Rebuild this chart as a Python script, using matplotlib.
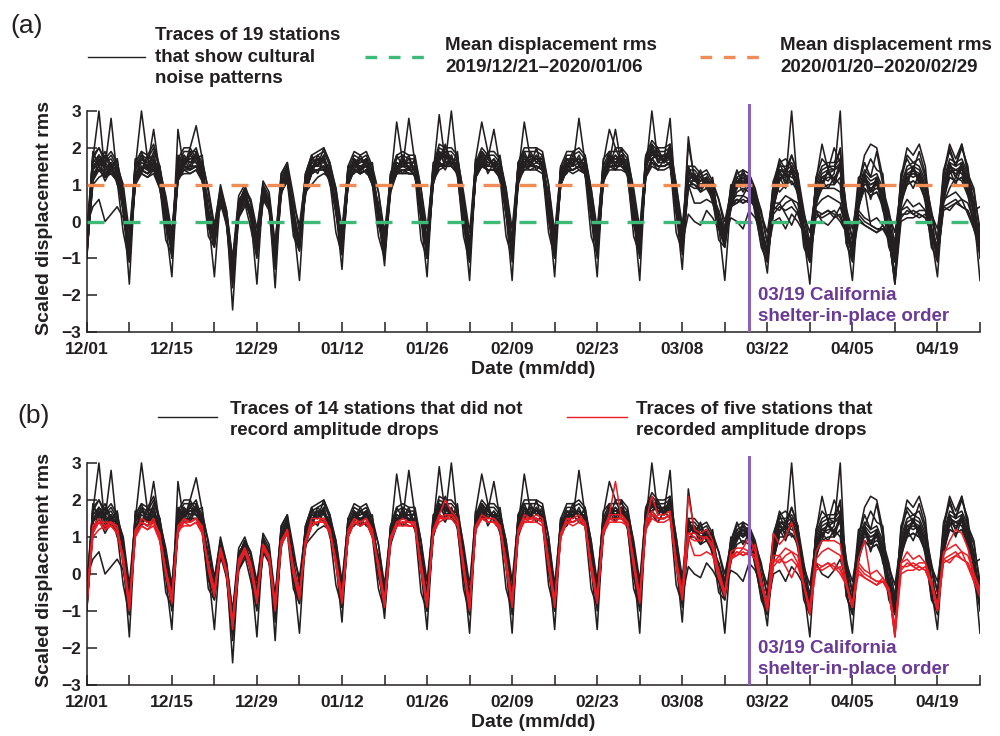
import numpy as np
import matplotlib.pyplot as plt
from matplotlib.lines import Line2D

# daily values, day 0 = 2019/12/01 (Sunday)
days = np.arange(148)
tick_days = np.arange(0, 148, 7)
tick_labels = ['12/01', '', '12/15', '', '12/29', '', '01/12', '', '01/26', '',
               '02/09', '', '02/23', '', '03/08', '', '03/22', '', '04/05', '',
               '04/19', '']
shelter_day = 109          # 03/19
holiday_mean = 0.0         # 2019/12/21-2020/01/06
after_mean = 1.0           # 2020/01/20-2020/02/29

# scaled displacement rms per station, in tenths (one week per group)
st01 = [-8,17,30,13,15,14,4, -10,15,30,17,18,11,-1, -8,13,16,18,20,14,1,
        -6,6,0,-16,4,6,1, -8,9,6,-10,9,12,0, -7,11,14,17,16,14,3,
        -8,11,17,14,17,13,2, -9,11,14,15,16,14,1, -9,13,29,16,30,14,1,
        -10,13,17,15,17,15,2, -9,12,18,16,18,15,3, -9,13,15,17,16,14,2,
        -8,12,18,16,18,14,2, -8,14,30,16,18,17,3, -7,13,11,11,12,7,-1,
        -6,7,11,10,11,6,-4, -10,7,13,11,30,9,-4, -10,6,12,11,13,30,-3,
        -9,7,10,10,11,7,-4, -10,6,13,12,13,9,-4, -9,9,13,14,13,9,2, -8]
st02 = [-6,14,18,15,28,12,5, -8,12,17,15,25,13,1, -7,15,18,16,18,13,3,
        -4,8,2,-13,6,8,3, -6,7,4,-8,11,14,1, -5,12,16,15,18,12,5,
        -6,13,15,16,17,11,4, -7,10,16,15,28,16,3, -7,12,17,18,16,16,3,
        -8,15,19,17,15,13,4, -7,14,16,18,17,17,5, -7,11,17,15,28,16,4,
        -6,14,16,18,16,16,4, -6,16,18,18,16,19,5, -5,11,13,10,10,9,1,
        -4,5,9,12,9,4,-2, -8,5,11,13,12,11,-2, -8,8,12,13,11,15,-1,
        -7,5,12,8,11,5,-2, -8,8,11,14,11,7,-2, -7,7,15,12,15,11,4, -6]
st03 = [-9,12,15,11,14,11,-3, -11,11,14,13,15,10,-5, -9,25,14,15,15,12,-4,
        -7,5,-1,-18,1,5,-2, -10,6,3,-13,8,11,-4, -8,8,13,14,15,11,-3,
        -9,10,14,13,14,10,-4, -10,8,13,14,13,13,-5, -10,10,16,15,15,13,-4,
        -11,12,16,14,14,12,-4, -10,11,15,15,15,14,-3, -10,10,14,14,15,13,-4,
        -9,11,15,15,15,13,-4, -9,13,17,15,15,16,-3, -8,10,10,8,9,6,-5,
        -7,4,8,9,8,3,-7, -11,4,10,10,11,8,-7, -11,5,9,10,10,12,-6,
        -10,4,9,7,8,4,-7, -11,5,10,11,10,6,-7, -10,6,12,11,12,8,-2, -9]
st04 = [-5,18,20,17,19,16,9, -6,16,19,18,21,15,6, -4,17,20,20,26,17,8,
        -2,10,3,-10,7,10,5, -4,11,8,-6,13,16,7, -3,13,18,19,20,16,9,
        -4,15,19,18,19,15,8, -5,13,18,19,18,18,9, -5,15,21,20,20,18,7,
        -6,17,27,19,19,17,9, -5,16,20,20,20,19,10, -5,15,19,19,20,18,9,
        -4,16,25,20,20,18,8, -4,18,22,20,20,21,10, -3,15,15,13,14,11,6,
        -2,9,13,14,13,8,3, -6,9,15,15,16,13,3, -6,10,14,15,15,17,4,
        -5,9,14,12,13,9,3, -6,10,15,16,15,11,3, -5,11,17,16,17,13,9, -4]
st05 = [-10,15,17,14,16,13,4, -17,13,16,15,18,12,-1, -15,14,17,17,17,14,1,
        -15,7,1,-24,3,7,1, -17,8,5,-18,10,13,0, -16,10,15,16,17,13,3,
        -13,12,16,15,16,12,2, -12,10,15,16,15,15,1, -15,12,18,17,17,15,1,
        -16,14,18,16,16,14,2, -16,13,27,17,17,16,3, -15,12,16,16,17,15,2,
        -15,13,17,17,17,15,2, -16,15,19,17,17,18,3, -13,12,12,10,11,8,-1,
        -16,6,10,11,10,5,-4, -14,6,12,12,13,10,-4, -17,7,11,12,12,14,-3,
        -16,6,11,9,10,6,-4, -17,7,12,13,12,8,-4, -15,8,14,13,14,10,2, -16]
st06 = [-7,19,15,18,14,17,6, -9,17,14,18,16,15,0, -6,17,15,19,16,16,2,
        -5,9,0,-12,5,9,2, -7,10,4,-9,12,15,1, -6,13,14,18,16,15,4,
        -7,15,14,17,15,14,3, -8,13,14,18,14,17,2, -8,15,17,19,16,17,2,
        -9,17,16,18,15,16,3, -8,16,15,19,16,18,4, -8,15,14,18,16,17,3,
        -7,16,15,20,16,17,3, -7,18,17,19,16,20,4, -6,23,11,13,10,11,0,
        -5,10,9,14,10,8,-3, -9,10,17,14,18,13,-3, -9,11,15,16,16,19,-2,
        -8,10,16,12,19,10,-3, -9,11,18,16,17,12,-3, -8,12,20,15,21,14,3, -7]
st07 = [-1,4,6,0,2,4,1, -8,11,14,13,16,11,0, -7,12,15,15,15,12,2,
        -5,6,0,-14,2,6,2, -7,7,4,-9,9,12,1, -6,8,10,12,13,12,4,
        -7,10,14,13,14,11,3, -8,9,13,14,13,13,2, -8,11,16,15,15,14,2,
        -9,12,16,14,14,13,3, -8,12,15,15,15,14,4, -8,11,14,14,15,13,3,
        -7,12,15,15,15,14,3, -7,13,17,15,15,16,4, -6,2,0,-1,3,1,-2,
        -4,1,0,-2,3,1,-3, -9,0,1,-2,2,0,-3, -9,3,0,-1,1,4,-2,
        -8,6,9,7,8,5,-3, -9,6,10,11,10,7,-3, -8,7,12,11,12,9,3, 4]
st08 = [-8,16,18,16,17,14,5, -9,14,17,16,17,13,1, -8,15,16,17,18,15,3,
        -6,8,1,-15,4,8,3, -7,9,6,-9,11,14,2, -6,11,16,17,17,14,4,
        -7,13,17,16,17,13,3, -8,11,27,16,16,16,2, -8,13,19,18,16,16,2,
        -9,15,19,17,25,15,3, -8,14,18,16,17,17,4, -8,13,17,17,16,16,3,
        -7,14,18,17,18,16,3, -7,16,20,18,18,19,4, -6,13,13,11,12,9,0,
        -5,7,11,12,11,6,-3, -9,7,14,13,14,11,-3, -9,8,12,13,14,15,-2,
        -8,7,12,10,11,7,-3, -9,8,13,14,13,9,-3, -8,9,15,14,15,11,3, -7]
st09 = [-7,14,16,15,15,12,5, -8,13,15,14,17,12,0, -7,13,17,16,16,14,2,
        -5,7,0,-13,3,7,2, -6,8,5,-8,10,13,1, -5,10,15,15,17,13,4,
        -6,12,16,15,15,12,3, -7,10,15,15,15,14,2, -7,12,18,16,17,15,2,
        -8,14,18,16,16,14,3, -7,13,17,16,17,16,4, -7,12,16,16,17,15,3,
        -6,13,17,17,17,15,3, -6,15,19,17,17,28,4, -5,12,12,10,11,8,0,
        -4,6,10,11,10,5,-3, -8,9,16,17,15,12,-2, -8,11,21,14,20,16,-1,
        -7,10,18,21,20,12,-2, -8,12,20,18,21,15,-2, -7,13,21,17,21,13,4, -6]
st10 = [-9,11,17,12,16,10,7, -7,13,14,15,14,12,3, -10,11,17,14,18,11,-2,
        -3,4,2,-12,1,4,4, -9,5,6,-11,7,14,-2, -4,7,15,13,17,10,6,
        -9,12,13,15,13,12,-1, -6,8,15,13,15,12,5, -10,10,16,14,18,12,-1,
        -7,12,18,13,16,11,5, -11,10,15,17,14,16,0, -6,12,13,16,14,13,6,
        -10,10,17,14,17,12,-1, -6,12,16,14,17,15,6, -9,9,12,8,11,5,3,
        -3,3,11,8,11,2,-6, -11,3,12,9,14,7,-1, -8,4,11,9,12,10,-6,
        -11,3,12,6,11,3,-1, -7,4,12,9,13,5,-6, -11,5,14,10,15,7,5, -10]
st11 = [-6,17,15,16,14,15,5, -8,14,18,14,16,14,2, -6,16,15,18,16,13,3,
        -4,8,2,-11,4,7,3, -6,9,6,-8,10,15,2, -5,11,17,15,18,12,5,
        -6,13,15,17,15,13,4, -7,11,16,15,17,14,3, -7,14,17,18,16,17,3,
        -8,13,19,15,17,13,4, -7,15,16,18,16,17,5, -7,11,17,15,18,14,4,
        -6,14,16,18,16,16,4, -6,14,20,16,18,17,5, -5,14,11,12,9,10,1,
        -4,7,12,10,12,4,-2, -8,5,14,10,15,9,-2, -8,9,10,14,11,16,-1,
        -7,5,13,8,12,5,-2, -8,9,11,15,11,10,-2, -7,7,16,12,16,10,4, -6]
st12 = [-6,18,16,19,15,17,2, -11,16,19,14,19,15,4, -5,18,15,20,17,18,-1,
        -7,9,3,-11,5,9,5, -5,10,3,-7,13,16,-2, -8,13,18,15,20,16,7,
        -5,15,15,18,15,16,0, -10,13,18,15,18,13,6, -6,16,17,21,15,19,-1,
        -11,17,15,19,14,18,6, -6,16,19,15,20,14,1, -10,15,15,19,15,18,7,
        -5,17,19,15,20,13,0, -10,18,18,20,16,21,7, -4,15,11,14,9,12,-2,
        -7,9,14,10,13,9,2, -6,11,16,12,18,13,-5, -11,12,17,15,14,20,2,
        -5,12,13,17,14,13,-5, -11,13,17,14,19,13,2, -5,14,19,15,20,15,1, -4]
st13 = [-2,17,20,16,18,15,10, -3,15,18,17,20,14,7, -3,16,19,19,19,16,9,
        -1,9,2,-12,5,9,6, -2,10,7,-7,12,15,5, -1,12,17,18,19,15,9,
        -2,14,18,17,18,14,8, -3,12,17,18,17,17,9, -2,14,20,19,19,17,8,
        -3,16,20,18,18,16,9, -2,15,19,19,19,18,10, -3,14,18,18,19,17,9,
        -2,15,19,19,19,17,9, -2,17,21,19,19,20,10, -1,14,14,12,13,10,6,
        0,8,12,13,12,7,2, -3,8,14,14,15,12,2, -3,9,13,14,14,16,3,
        -2,8,13,11,12,8,2, -3,9,14,15,14,10,2, -2,10,16,15,16,12,8, -2]
st14 = [-10,14,18,15,13,14,8, -8,17,13,17,15,10,4, -9,12,18,15,19,13,6,
        -4,8,-1,-15,3,8,0, -9,6,5,-12,11,11,4, -6,12,13,17,14,14,8,
        -9,10,17,13,17,10,5, -7,12,13,17,14,17,6, -10,11,19,15,18,14,6,
        -7,15,16,17,15,15,7, -10,12,18,15,18,14,8, -7,14,14,17,16,16,6,
        -9,11,18,15,18,14,7, -6,16,17,18,16,18,8, -8,11,13,9,12,7,3,
        -4,8,9,13,9,7,0, -10,4,11,14,10,11,1, -7,10,9,14,10,15,2,
        -10,4,12,8,9,8,1, -8,9,10,15,10,10,2, -10,6,15,14,13,12,6, -9]
# five stations that recorded amplitude drops after the order
st15 = [-8,13,15,13,14,12,4, -9,12,14,13,15,10,1, -7,13,15,14,15,12,2,
        -5,7,1,-14,3,7,2, -7,8,5,-9,9,12,1, -6,9,15,15,15,12,3,
        -7,12,15,14,15,11,2, -8,10,14,15,14,14,2, -8,12,16,20,17,15,2,
        -9,13,16,15,15,13,3, -8,12,16,15,16,15,3, -8,11,15,15,16,14,2,
        -7,12,16,16,16,14,3, -7,14,21,16,16,17,3, -6,21,12,11,12,9,0,
        -5,6,7,7,10,6,-2, -9,11,8,10,14,8,-3, -10,6,9,9,9,8,-3,
        -9,4,9,-1,-2,-2,-5, -15,3,6,4,5,3,-2, -9,5,9,12,11,7,0, -4]
st16 = [-7,11,14,12,13,11,5, -8,10,13,12,14,9,1, -6,11,14,13,14,11,3,
        -4,6,1,-13,4,7,3, -6,7,4,-8,8,11,2, -5,8,14,14,14,11,4,
        -6,10,14,13,14,10,3, -7,9,13,14,13,13,3, -7,11,15,16,16,14,3,
        -8,12,15,14,14,12,4, -7,11,15,14,15,14,4, -7,10,14,14,15,13,3,
        -6,11,16,25,15,13,4, -6,13,16,15,15,16,4, -5,11,10,9,10,7,1,
        -5,4,5,6,5,8,-2, -8,4,3,5,6,3,-3, -9,3,2,3,1,2,-3,
        -8,1,-1,-2,-3,-1,-4, -14,1,3,2,1,2,-2, -9,4,5,6,4,3,-1, -4]
st17 = [-9,12,14,14,14,13,3, -10,11,15,14,14,11,0, -8,12,15,14,15,13,1,
        -6,6,0,-15,2,6,1, -8,7,4,-10,8,12,0, -7,9,13,14,15,12,2,
        -8,11,14,14,15,12,1, -9,9,14,14,14,14,1, -9,11,15,15,16,14,1,
        -10,13,15,14,14,13,2, -9,11,15,15,15,14,2, -9,10,15,14,15,14,1,
        -8,11,15,15,15,14,2, -8,13,16,15,15,16,2, -7,10,5,5,6,5,-1,
        -6,5,5,7,6,5,-2, -10,3,5,2,-1,3,-3, -11,2,1,2,3,1,-3,
        -9,2,0,-1,-2,-2,-4, -16,2,2,3,2,1,-3, -10,4,3,5,6,2,-2, -6]
st18 = [-7,13,14,12,14,12,4, -8,12,14,13,14,10,1, -6,12,14,14,15,12,2,
        -5,7,1,-13,3,7,2, -7,8,5,-9,9,11,1, -6,9,13,14,15,12,3,
        -7,11,14,13,14,11,2, -8,10,13,14,14,13,2, -8,11,16,15,16,14,2,
        -9,12,15,15,15,13,3, -8,12,14,15,15,14,3, -8,11,14,14,15,14,2,
        -7,12,15,14,16,14,3, -7,13,17,15,15,16,3, -6,11,11,10,10,8,0,
        -5,5,6,5,6,4,-3, -9,5,5,7,6,5,-3, -10,4,6,7,6,5,-2,
        -9,3,1,0,1,-1,-4, -16,3,4,2,3,3,-2, -9,6,7,8,6,5,0, -5]
st19 = [-8,10,12,13,13,11,3, -9,11,13,12,13,9,0, -7,12,13,13,14,11,2,
        -5,6,0,-14,3,6,2, -7,7,4,-9,8,11,0, -6,8,13,14,14,11,3,
        -7,10,14,13,14,10,2, -8,9,13,13,13,13,1, -8,11,14,15,15,13,1,
        -9,12,15,14,14,12,2, -8,11,14,14,14,13,2, -8,10,14,13,14,13,1,
        -7,11,14,14,14,13,2, -7,12,15,14,14,15,3, -6,10,9,9,10,7,-1,
        -5,4,6,5,6,4,-3, -9,2,4,3,4,2,-3, -10,1,2,3,2,0,-3,
        -9,0,-1,-2,-3,-2,-4, -17,0,1,1,2,1,-3, -10,3,4,5,4,3,-2, -6]

black_stations = [st01, st02, st03, st04, st05, st06, st07,
                  st08, st09, st10, st11, st12, st13, st14]
red_stations = [st15, st16, st17, st18, st19]

plt.rcParams['font.family'] = ['Liberation Sans', 'DejaVu Sans']
ink = '#231f20'
green = '#3dba76'
orange = '#f08c55'
purple_line = '#8a63b5'
purple_text = '#6b3a96'
red = '#ec1c24'

fig = plt.figure(figsize=(10, 7.36), dpi=100)
ax_a = fig.add_axes([0.0868, 0.5489, 0.8932, 0.3103])
ax_b = fig.add_axes([0.0868, 0.0693, 0.8932, 0.3117])


def style_axes(ax):
    ax.set_xlim(0, 147)
    ax.set_ylim(-3, 3.2)
    for side in ['top', 'right']:
        ax.spines[side].set_visible(False)
    for side in ['left', 'bottom']:
        ax.spines[side].set_linewidth(1.1)
        ax.spines[side].set_color(ink)
    ax.spines['left'].set_bounds(-3, 3)
    ax.set_xticks(tick_days)
    ax.set_xticklabels(tick_labels)
    ax.set_yticks([3, 2, 1, 0, -1, -2, -3])
    ax.tick_params(direction='in', length=7, width=1.1, color=ink,
                   labelsize=12.5, labelcolor=ink)
    ax.tick_params(axis='y', pad=4)
    ax.tick_params(axis='x', pad=7)
    for lab in ax.get_xticklabels() + ax.get_yticklabels():
        lab.set_fontweight('bold')
    ax.set_ylabel('Scaled displacement rms', fontsize=14, fontweight='bold',
                  color=ink, labelpad=6)
    ax.set_xlabel('Date (mm/dd)', fontsize=14, fontweight='bold', color=ink,
                  labelpad=3)


def shelter_marker(ax):
    ax.axvline(shelter_day, color=purple_line, lw=2.2, zorder=5)
    ax.text(shelter_day + 1.4, -2.3, '03/19 California\nshelter-in-place order',
            color=purple_text, fontsize=13.5, fontweight='bold',
            ha='left', va='center', linespacing=1.3, zorder=6)


# panel (a)
for st in black_stations + red_stations:
    ax_a.plot(days, np.array(st) / 10, color=ink, lw=1.15)
ax_a.axhline(holiday_mean, color=green, lw=2.4, dashes=(5.1, 5.7), zorder=4)
ax_a.axhline(after_mean, color=orange, lw=2.4, dashes=(5.1, 5.7), zorder=4)
shelter_marker(ax_a)
style_axes(ax_a)

# panel (b)
for st in black_stations:
    ax_b.plot(days, np.array(st) / 10, color=ink, lw=1.15)
for st in red_stations:
    ax_b.plot(days, np.array(st) / 10, color=red, lw=1.1)
shelter_marker(ax_b)
style_axes(ax_b)


# legends drawn by hand above each panel
def key(x0, x1, y, **kw):
    fig.add_artist(Line2D([x0, x1], [y, y], transform=fig.transFigure, **kw))


def key_text(x, y, s):
    fig.text(x, y, s, ha='left', va='center', fontsize=13.5,
             fontweight='bold', color=ink, linespacing=1.35)


fig.text(0.010, 0.9647, '(a)', fontsize=19, color=ink, va='center')
key(0.088, 0.145, 0.9226, color=ink, lw=1.0)
key_text(0.155, 0.9220, 'Traces of 19 stations\nthat show cultural\nnoise patterns')
key(0.365, 0.430, 0.9226, color=green, lw=2.4, dashes=(3.5, 3.5))
key_text(0.445, 0.9235, 'Mean displacement rms\n2019/12/21\u20132020/01/06')
key(0.700, 0.770, 0.9226, color=orange, lw=2.4, dashes=(3.5, 3.5))
key_text(0.780, 0.9235, 'Mean displacement rms\n2020/01/20\u20132020/02/29')

fig.text(0.017, 0.4348, '(b)', fontsize=19, color=ink, va='center')
key(0.158, 0.217, 0.4334, color=ink, lw=1.0)
key_text(0.230, 0.4293, 'Traces of 14 stations that did not\nrecord amplitude drops')
key(0.567, 0.627, 0.4334, color=red, lw=1.0)
key_text(0.636, 0.4293, 'Traces of five stations that\nrecorded amplitude drops')

fig.savefig('out.png', dpi=100)
